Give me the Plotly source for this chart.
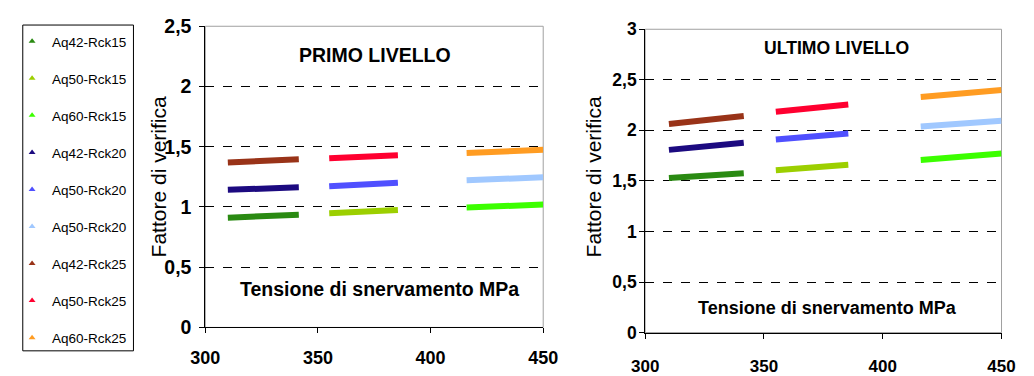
import plotly.graph_objects as go

# ---------------- data ----------------
series_names = ["Aq42-Rck15", "Aq50-Rck15", "Aq60-Rck15",
                "Aq42-Rck20", "Aq50-Rck20", "Aq50-Rck20",
                "Aq42-Rck25", "Aq50-Rck25", "Aq60-Rck25"]
series_colors = ["#2a8a12", "#9ccf00", "#3cff00",
                 "#1c0a80", "#5050ff", "#a0c8ff",
                 "#993318", "#ff0030", "#ff9c22"]

# yield stress ranges (MPa) for each steel grade
x_aq42 = [310, 341.5]
x_aq50 = [355, 385.5]
x_aq60 = [416, 450]

# "PRIMO LIVELLO" check factors (start, end)
primo_aq42_rck15 = [0.911, 0.935]
primo_aq50_rck15 = [0.948, 0.974]
primo_aq60_rck15 = [0.995, 1.020]
primo_aq42_rck20 = [1.142, 1.163]
primo_aq50_rck20 = [1.171, 1.202]
primo_aq60_rck20 = [1.222, 1.246]
primo_aq42_rck25 = [1.370, 1.396]
primo_aq50_rck25 = [1.404, 1.430]
primo_aq60_rck25 = [1.448, 1.474]

# "ULTIMO LIVELLO" check factors (start, end)
ultimo_aq42_rck15 = [1.530, 1.576]
ultimo_aq50_rck15 = [1.606, 1.659]
ultimo_aq60_rck15 = [1.708, 1.770]
ultimo_aq42_rck20 = [1.807, 1.878]
ultimo_aq50_rck20 = [1.909, 1.970]
ultimo_aq60_rck20 = [2.039, 2.094]
ultimo_aq42_rck25 = [2.063, 2.141]
ultimo_aq50_rck25 = [2.183, 2.255]
ultimo_aq60_rck25 = [2.331, 2.400]

x_ticks = [300, 350, 400, 450]
y_ticks_primo = [0, 0.5, 1, 1.5, 2, 2.5]
y_ticktext_primo = ["0", "0,5", "1", "1,5", "2", "2,5"]
y_grid_primo = [0.5, 1, 1.5, 2]
y_ticks_ultimo = [0, 0.5, 1, 1.5, 2, 2.5, 3]
y_ticktext_ultimo = ["0", "0,5", "1", "1,5", "2", "2,5", "3"]
y_grid_ultimo = [0.5, 1, 1.5, 2, 2.5]

series_x = [x_aq42, x_aq50, x_aq60] * 3
primo = [primo_aq42_rck15, primo_aq50_rck15, primo_aq60_rck15,
         primo_aq42_rck20, primo_aq50_rck20, primo_aq60_rck20,
         primo_aq42_rck25, primo_aq50_rck25, primo_aq60_rck25]
ultimo = [ultimo_aq42_rck15, ultimo_aq50_rck15, ultimo_aq60_rck15,
          ultimo_aq42_rck20, ultimo_aq50_rck20, ultimo_aq60_rck20,
          ultimo_aq42_rck25, ultimo_aq50_rck25, ultimo_aq60_rck25]

# ---------------- figure ----------------
W, H = 1034, 376
FONT = "Arial, Liberation Sans, sans-serif"
fig = go.Figure()

for i, name in enumerate(series_names):
    fig.add_trace(go.Scatter(x=series_x[i], y=primo[i], mode="lines",
                             line=dict(color=series_colors[i], width=6),
                             showlegend=False, xaxis="x", yaxis="y",
                             hoverinfo="skip"))
    fig.add_trace(go.Scatter(x=series_x[i], y=ultimo[i], mode="lines",
                             line=dict(color=series_colors[i], width=6),
                             showlegend=False, xaxis="x2", yaxis="y2",
                             hoverinfo="skip"))

for i, name in enumerate(series_names):
    fig.add_trace(go.Scatter(x=[None], y=[None], mode="markers", name=name,
                             marker=dict(symbol="triangle-up", size=6,
                                         color=series_colors[i]),
                             legendgroup="g%d" % i, showlegend=True))

def px(x):
    return x / W

def py(y):
    return 1 - y / H

axis_common = dict(showline=True, linecolor="black", linewidth=1,
                   ticks="outside", ticklen=5, tickcolor="black",
                   zeroline=False)

def grid_minor(vals):
    return dict(tickmode="array", tickvals=vals, ticks="", showgrid=True,
                gridcolor="black", griddash="dash", gridwidth=1)

fig.update_layout(
    width=W, height=H,
    margin=dict(l=0, r=0, t=0, b=0),
    paper_bgcolor="white", plot_bgcolor="white",
    font=dict(family=FONT, color="black"),
    xaxis=dict(domain=[px(196), px(544)], range=[300, 450], tickvals=x_ticks,
               showgrid=False, anchor="y",
               tickfont=dict(size=18, family=FONT, weight="bold"),
               ticklabelstandoff=9, **axis_common),
    yaxis=dict(domain=[py(338), py(16.3)], range=[0, 2.5],
               tickvals=y_ticks_primo, ticktext=y_ticktext_primo,
               showgrid=False, anchor="x", minor=grid_minor(y_grid_primo),
               tickfont=dict(size=19.5, family=FONT, weight="bold"),
               ticklabelstandoff=4, **axis_common),
    xaxis2=dict(domain=[px(649), px(1016)], range=[300, 450], tickvals=x_ticks,
                showgrid=False, anchor="y2",
                tickfont=dict(size=17, family=FONT, weight="bold"),
                ticklabelstandoff=13, **axis_common),
    yaxis2=dict(domain=[py(343.5), py(19.5)], range=[0, 3],
                tickvals=y_ticks_ultimo, ticktext=y_ticktext_ultimo,
                showgrid=False, anchor="x2", minor=grid_minor(y_grid_ultimo),
                tickfont=dict(size=17.5, family=FONT, weight="bold"),
                ticklabelstandoff=-1, **axis_common),
    legend=dict(x=px(-3), y=py(16), xanchor="left", yanchor="top",
                font=dict(size=13.5, family=FONT, color="black"),
                tracegroupgap=16.5, bgcolor="rgba(0,0,0,0)", borderwidth=0),
    showlegend=True,
)

# plot-area borders (grey) and legend box
fig.add_shape(type="rect", xref="paper", yref="paper", x0=px(196), x1=px(544),
              y0=py(338), y1=py(16.3), line=dict(color="#a0a0a0", width=1),
              layer="below")
fig.add_shape(type="rect", xref="paper", yref="paper", x0=px(649), x1=px(1016),
              y0=py(343.5), y1=py(19.5), line=dict(color="#a0a0a0", width=1),
              layer="below")
fig.add_shape(type="rect", xref="paper", yref="paper", x0=px(8), x1=px(122),
              y0=py(363), y1=py(15), line=dict(color="black", width=1),
              layer="above")

annotations = [
    dict(text="PRIMO LIVELLO", x=px(371), y=py(47), size=19.5, bold=True, angle=0),
    dict(text="Tensione di snervamento MPa", x=px(375), y=py(297), size=19.5, bold=True, angle=0),
    dict(text="ULTIMO LIVELLO", x=px(846), y=py(40), size=17.6, bold=True, angle=0),
    dict(text="Tensione di snervamento MPa", x=px(837), y=py(317), size=18, bold=True, angle=0),
    dict(text="Fattore di verifica", x=px(148), y=py(177), size=21, bold=False, angle=-90),
    dict(text="Fattore di verifica", x=px(596), y=py(177), size=21, bold=False, angle=-90),
]
for a in annotations:
    fig.add_annotation(text=a["text"], x=a["x"], y=a["y"], xref="paper", yref="paper",
                       xanchor="center", yanchor="middle", showarrow=False,
                       textangle=a["angle"],
                       font=dict(size=a["size"], family=FONT, color="black",
                                 weight="bold" if a["bold"] else "normal"))

fig.write_html("out.html", config={"displayModeBar": False},
               post_script="document.body.style.margin='0';"
                           "document.body.style.padding='0';")
